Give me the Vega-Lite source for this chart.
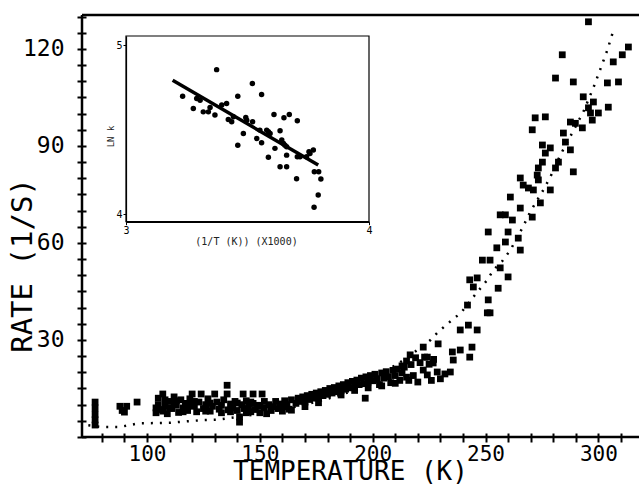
{
  "$schema": "https://vega.github.io/schema/vega-lite/v6.json",
  "width": 557,
  "height": 422,
  "autosize": "none",
  "padding": {"left": 82, "top": 15, "right": 0, "bottom": 49},
  "background": "white",
  "config": {"view": {"stroke": null}, "font": "DejaVu Sans Mono"},
  "datasets": {
    "main": [
      {"T":77,"R":3.7},{"T":77,"R":5.3},{"T":77,"R":7},{"T":77,"R":9},{"T":77,"R":10.8},
      {"T":88,"R":9.5},{"T":89,"R":8.2},{"T":90,"R":7.7},{"T":91,"R":9.5},{"T":95.6,"R":10.8},
      {"T":104,"R":7.5},{"T":105,"R":10},{"T":105,"R":12},{"T":106,"R":8.5},{"T":107,"R":13.3},{"T":108,"R":9.5},{"T":108,"R":11.5},{"T":109,"R":7.2},{"T":110,"R":11},{"T":110,"R":9},
      {"T":111,"R":8.8},{"T":112,"R":12.4},{"T":112,"R":10.5},{"T":113,"R":9.8},{"T":114,"R":7.6},{"T":115,"R":11.5},{"T":116,"R":9},{"T":117,"R":10.4},{"T":118,"R":8.2},{"T":119,"R":11.8},
      {"T":120,"R":13.3},{"T":121,"R":9.5},{"T":122,"R":7.8},{"T":123,"R":10.8},{"T":124,"R":13.3},{"T":125,"R":8.8},{"T":126,"R":10},{"T":127,"R":11.8},{"T":128,"R":8},{"T":129,"R":9.5},
      {"T":130,"R":13.3},{"T":131,"R":10.8},{"T":132,"R":8.6},{"T":133,"R":9.8},{"T":134,"R":11.5},{"T":135.5,"R":13.3},{"T":135.5,"R":16},{"T":136,"R":8.4},{"T":137,"R":10.2},{"T":138,"R":9},
      {"T":139,"R":11},{"T":140,"R":8.2},{"T":141,"R":4.6},{"T":141,"R":6.2},{"T":142,"R":10},{"T":142.6,"R":13.3},{"T":143,"R":8.8},{"T":144,"R":11.2},{"T":145,"R":9.2},{"T":146,"R":7.8},
      {"T":147,"R":13.3},{"T":147,"R":10.4},{"T":148,"R":8.5},{"T":149,"R":9.8},{"T":150,"R":7.5},{"T":151,"R":13.3},
      {"T":104,"R":9},{"T":107,"R":8},{"T":113,"R":11.2},{"T":116,"R":7.8},{"T":118,"R":9.8},{"T":121,"R":11},{"T":126,"R":8},{"T":128,"R":10.5},{"T":133,"R":7.5},{"T":137,"R":7.8},
      {"T":140,"R":10.5},{"T":144,"R":7.5},{"T":146,"R":10.8},{"T":150,"R":9.5},{"T":152,"R":11},
      {"T":152,"R":9},{"T":153,"R":7.2},{"T":154,"R":10},{"T":155,"R":8.2},{"T":156,"R":9.4},{"T":157,"R":11},{"T":158,"R":8.8},{"T":159,"R":10.2},{"T":160,"R":9.5},{"T":161,"R":11.2},
      {"T":162,"R":10},{"T":163,"R":8.6},{"T":164,"R":8.3},{"T":164,"R":11.5},{"T":166,"R":10.4},{"T":167,"R":12},{"T":168,"R":11},{"T":169,"R":12.4},{"T":170,"R":10.8},{"T":171,"R":12.8},
      {"T":172,"R":11.6},{"T":173,"R":13.2},{"T":174,"R":12},{"T":175,"R":13.6},{"T":176,"R":12.4},{"T":177,"R":14},{"T":178,"R":12.8},{"T":179,"R":14.4},{"T":180,"R":13.2},{"T":181,"R":15},
      {"T":182,"R":13.6},{"T":183,"R":15.3},{"T":184,"R":14},{"T":185,"R":15.8},{"T":186,"R":14.4},{"T":187,"R":16.2},{"T":188,"R":14.8},{"T":189,"R":16.8},{"T":190,"R":15.2},{"T":191,"R":17.2},
      {"T":192,"R":15.8},{"T":193,"R":17.6},{"T":194,"R":16.2},{"T":195,"R":18.2},{"T":196,"R":16.5},{"T":196.7,"R":12},{"T":197,"R":18.6},{"T":198,"R":17},{"T":199,"R":19},{"T":200,"R":17.4},
      {"T":201,"R":19.4},{"T":202,"R":17.8},{"T":203,"R":16.2},{"T":204,"R":19.8},{"T":205,"R":18.2},{"T":206,"R":20.2},{"T":207,"R":18.6},{"T":208,"R":16.8},{"T":209,"R":20.6},{"T":210,"R":19},
      {"T":211,"R":21},{"T":212,"R":17.5},{"T":213,"R":19.8},{"T":214,"R":21.6},{"T":215,"R":18.5},
      {"T":186,"R":13},{"T":192,"R":14.4},{"T":198,"R":15.2},{"T":204,"R":15.8},{"T":210,"R":16.6},{"T":170,"R":9.4},{"T":176,"R":10.6},{"T":160,"R":8},
      {"T":213,"R":22},{"T":215,"R":23.5},{"T":216.6,"R":25.4},{"T":217,"R":22.4},{"T":219,"R":24.5},{"T":221,"R":23},{"T":222.4,"R":27.8},{"T":223,"R":24.7},{"T":225,"R":22.5},{"T":227,"R":24},
      {"T":229,"R":28.8},{"T":216,"R":17.5},{"T":218,"R":19},{"T":220,"R":17},{"T":222.4,"R":20.7},{"T":224.2,"R":19.2},{"T":226,"R":17.5},{"T":228.6,"R":20.1},{"T":230,"R":18},{"T":232,"R":19.5},
      {"T":234.4,"R":20.1},{"T":226.8,"R":22.9},{"T":224.2,"R":24.7},{"T":235.3,"R":26.3},{"T":238.8,"R":26.9},{"T":244,"R":27.8},{"T":243,"R":24.7},{"T":235.7,"R":23.8},
      {"T":265.4,"R":70.8},{"T":258.8,"R":68.7},{"T":261.9,"R":67.1},{"T":256.5,"R":68.7},{"T":251.2,"R":63.4},{"T":260,"R":63.4},{"T":264.5,"R":61.5},{"T":258.8,"R":60.3},{"T":255,"R":58.5},{"T":265.4,"R":57.8},
      {"T":248.6,"R":54.7},{"T":252,"R":54.7},{"T":256.5,"R":52.3},{"T":260,"R":49.5},{"T":246.3,"R":49.2},{"T":243,"R":48.6},{"T":244.6,"R":46.4},{"T":255.6,"R":46},{"T":251.2,"R":42.4},{"T":242,"R":40.8},
      {"T":250.8,"R":38.4},{"T":252,"R":38.4},{"T":242.4,"R":34.6},{"T":238.8,"R":33.1},{"T":246.3,"R":33.1},
      {"T":272,"R":98.7},{"T":276.5,"R":99},{"T":270.7,"R":95},{"T":287.6,"R":97.4},{"T":289.8,"R":97},{"T":284.5,"R":94},{"T":285.4,"R":91.2},{"T":287.6,"R":88.8},{"T":275.2,"R":90.3},{"T":278.7,"R":89.4},
      {"T":276.5,"R":87.8},{"T":275.2,"R":85},{"T":282.3,"R":85},{"T":273.4,"R":83.2},{"T":281,"R":83.2},{"T":288.9,"R":82},{"T":272.9,"R":81},{"T":265.4,"R":80.1},{"T":266.7,"R":77.9},{"T":273.4,"R":79.5},
      {"T":269,"R":77},{"T":271.2,"R":76.4},{"T":278.7,"R":76.4},{"T":261,"R":74.2},{"T":274.3,"R":72.4},{"T":270.7,"R":68},
      {"T":295.6,"R":128.4},{"T":313.3,"R":120.6},{"T":310.6,"R":118.2},{"T":306.6,"R":116},{"T":284,"R":118.2},{"T":281,"R":111},{"T":288.9,"R":109.8},{"T":304,"R":109.5},{"T":308.9,"R":109.8},{"T":293.3,"R":105.2},
      {"T":297.8,"R":103.6},{"T":304.4,"R":102},{"T":295.6,"R":101.8},{"T":300,"R":100.2},{"T":296.5,"R":100.2},{"T":292.9,"R":95.6},{"T":297.3,"R":98}
    ],
    "fit": [
      {"T":74,"R":3.6},{"T":80,"R":3.1},{"T":88,"R":3.1},{"T":96,"R":4.2},{"T":110,"R":4.4},{"T":124,"R":5.2},{"T":132,"R":5.4},{"T":140,"R":6.2},{"T":150,"R":7.2},{"T":160,"R":8.5},
      {"T":170,"R":10},{"T":180,"R":11.8},{"T":190,"R":14},{"T":200,"R":17.2},{"T":207,"R":21},{"T":211,"R":22.5},{"T":220,"R":27},{"T":225.6,"R":30},{"T":229,"R":32.5},{"T":235.7,"R":36.5},
      {"T":239,"R":38.3},{"T":244.6,"R":43.3},{"T":250.8,"R":48.6},{"T":253.4,"R":51.6},{"T":257.4,"R":54.4},{"T":261,"R":57.8},{"T":266.3,"R":64.6},{"T":269.8,"R":69.6},{"T":275.6,"R":76.4},{"T":278.7,"R":80.4},
      {"T":283,"R":87},{"T":288,"R":93.5},{"T":293.3,"R":100.5},{"T":297.8,"R":108},{"T":301,"R":114},{"T":304,"R":119.7},{"T":306.6,"R":125.6}
    ],
    "inset": [
      {"X":3.373,"Y":4.856},{"X":3.233,"Y":4.699},{"X":3.277,"Y":4.626},{"X":3.318,"Y":4.606},{"X":3.339,"Y":4.606},{"X":3.291,"Y":4.685},{"X":3.366,"Y":4.587},{"X":3.394,"Y":4.646},{"X":3.414,"Y":4.656},{"X":3.46,"Y":4.699},
      {"X":3.52,"Y":4.774},{"X":3.558,"Y":4.709},{"X":3.421,"Y":4.561},{"X":3.435,"Y":4.547},{"X":3.46,"Y":4.409},{"X":3.483,"Y":4.478},{"X":3.493,"Y":4.573},{"X":3.521,"Y":4.547},{"X":3.538,"Y":4.449},{"X":3.558,"Y":4.423},
      {"X":3.586,"Y":4.337},{"X":3.586,"Y":4.488},{"X":3.609,"Y":4.591},{"X":3.634,"Y":4.494},{"X":3.634,"Y":4.281},{"X":3.65,"Y":4.571},{"X":3.672,"Y":4.591},{"X":3.661,"Y":4.281},{"X":3.661,"Y":4.35},{"X":3.705,"Y":4.553},
      {"X":3.702,"Y":4.21},{"X":3.705,"Y":4.34},{"X":3.771,"Y":4.38},{"X":3.775,"Y":4.252},{"X":3.793,"Y":4.252},{"X":3.802,"Y":4.209},{"X":3.791,"Y":4.114},{"X":3.774,"Y":4.041},{"X":3.641,"Y":4.439},{"X":3.654,"Y":4.409},
      {"X":3.613,"Y":4.39},{"X":3.551,"Y":4.498},{"X":3.305,"Y":4.675},{"X":3.346,"Y":4.632},{"X":3.442,"Y":4.577},{"X":3.497,"Y":4.557},{"X":3.579,"Y":4.498},{"X":3.593,"Y":4.478},{"X":3.648,"Y":4.419},{"X":3.661,"Y":4.399},
      {"X":3.716,"Y":4.34},{"X":3.743,"Y":4.34},{"X":3.753,"Y":4.37},{"X":3.757,"Y":4.36}
    ],
    "insetfit": [{"X":3.192,"Y":4.793},{"X":3.791,"Y":4.291}],
    "one": [{}]
  },
  "layer": [
    {
      "data": {"name": "fit"},
      "mark": {"type": "line", "stroke": "black", "strokeWidth": 2.5, "strokeDash": [2, 7], "strokeCap": "butt"},
      "encoding": {
        "x": {"field": "T", "type": "quantitative",
          "scale": {"domain": [71.2, 318], "nice": false, "zero": false},
          "axis": {
            "orient": "bottom",
            "values": [80,90,100,110,120,130,140,150,160,170,180,190,200,210,220,230,240,250,260,270,280,290,300,310],
            "labelExpr": "datum.value % 50 === 0 ? datum.label : ''",
            "domain": false, "grid": false, "offset": -4,
            "tickSize": 9, "tickWidth": 2, "tickColor": "black",
            "labelFont": "DejaVu Sans Mono", "labelFontSize": 21, "labelColor": "black", "labelPadding": 1, "labelOverlap": false,
            "title": "TEMPERATURE (K)", "titleFont": "DejaVu Sans Mono", "titleFontSize": 26, "titleFontWeight": "normal", "titleColor": "black",
            "titleX": 268, "titleY": 46, "titleBaseline": "alphabetic", "titleAlign": "center"
          }
        },
        "y": {"field": "R", "type": "quantitative",
          "scale": {"domain": [0, 130.5], "nice": false, "zero": false},
          "axis": {
            "orient": "left",
            "values": [0,5,10,15,20,25,30,35,40,45,50,55,60,65,70,75,80,85,90,95,100,105,110,115,120,125,130],
            "labelExpr": "datum.value % 30 === 0 && datum.value > 0 ? datum.label : ''",
            "domain": false, "grid": false, "offset": -4,
            "tickSize": 9, "tickWidth": 2, "tickColor": "black",
            "labelFont": "DejaVu Sans Mono", "labelFontSize": 23, "labelColor": "black", "labelPadding": 13, "labelOverlap": false,
            "title": "RATE (1/S)", "titleFont": "DejaVu Sans Mono", "titleFontSize": 29, "titleFontWeight": "normal", "titleColor": "black",
            "titleAngle": 270, "titleX": -64, "titleY": 250, "titleBaseline": "middle", "titleAlign": "center"
          }
        }
      }
    },
    {
      "data": {"name": "main"},
      "mark": {"type": "point", "shape": "square", "filled": true, "color": "black", "size": 46, "opacity": 1},
      "encoding": {
        "x": {"field": "T", "type": "quantitative", "scale": {"domain": [71.2, 318], "nice": false, "zero": false}, "axis": null},
        "y": {"field": "R", "type": "quantitative", "scale": {"domain": [0, 130.5], "nice": false, "zero": false}, "axis": null}
      }
    },
    {
      "data": {"name": "one"},
      "mark": {"type": "rule", "color": "black", "strokeWidth": 2.5},
      "encoding": {"y": {"datum": 0, "type": "quantitative", "scale": {"domain": [0, 130.5], "nice": false, "zero": false}, "axis": null}}
    },
    {
      "data": {"name": "one"},
      "mark": {"type": "rule", "color": "black", "strokeWidth": 2.5},
      "encoding": {"y": {"datum": 130.5, "type": "quantitative", "scale": {"domain": [0, 130.5], "nice": false, "zero": false}, "axis": null}}
    },
    {
      "data": {"name": "one"},
      "mark": {"type": "rule", "color": "black", "strokeWidth": 2.5},
      "encoding": {"x": {"datum": 71.2, "type": "quantitative", "scale": {"domain": [71.2, 318], "nice": false, "zero": false}, "axis": null}}
    },
    {
      "data": {"name": "one"},
      "mark": {"type": "rect", "fill": null, "stroke": "black", "strokeWidth": 1.2},
      "encoding": {
        "x": {"datum": 3, "type": "quantitative", "scale": {"domain": [3, 4], "range": [44, 287], "nice": false, "zero": false}, "axis": null},
        "x2": {"datum": 4},
        "y": {"datum": 3.956, "type": "quantitative", "scale": {"domain": [3.956, 5.055], "range": [206.7, 21], "nice": false, "zero": false}, "axis": null},
        "y2": {"datum": 5.055}
      }
    },
    {
      "data": {"name": "insetfit"},
      "mark": {"type": "line", "stroke": "black", "strokeWidth": 3.5},
      "encoding": {
        "x": {"field": "X", "type": "quantitative", "scale": {"domain": [3, 4], "range": [44, 287], "nice": false, "zero": false}, "axis": null},
        "y": {"field": "Y", "type": "quantitative", "scale": {"domain": [3.956, 5.055], "range": [206.7, 21], "nice": false, "zero": false}, "axis": null}
      }
    },
    {
      "data": {"name": "inset"},
      "mark": {"type": "circle", "color": "black", "size": 30, "opacity": 1},
      "encoding": {
        "x": {"field": "X", "type": "quantitative",
          "scale": {"domain": [3, 4], "range": [44, 287], "nice": false, "zero": false},
          "axis": {
            "orient": "bottom", "offset": -215.3,
            "values": [3,3.04,3.08,3.12,3.16,3.2,3.24,3.28,3.32,3.36,3.4,3.44,3.48,3.52,3.56,3.6,3.64,3.68,3.72,3.76,3.8,3.84,3.88,3.92,3.96,4],
            "format": "d",
            "labelExpr": "datum.value === 3 || datum.value === 4 ? datum.label : ''",
            "domain": true, "domainColor": "black", "domainWidth": 1.5, "grid": false,
            "tickColor": "black", "tickSize": 3, "tickWidth": 1,
            "labelFont": "DejaVu Sans Mono", "labelFontSize": 10, "labelColor": "black", "labelPadding": 1, "labelOverlap": false, "labelFlush": false,
            "title": "(1/T (K)) (X1000)", "titleFont": "DejaVu Sans Mono", "titleFontSize": 10, "titleFontWeight": "normal", "titleColor": "#222",
            "titleX": 164, "titleY": 20, "titleBaseline": "middle", "titleAlign": "center"
          }
        },
        "y": {"field": "Y", "type": "quantitative",
          "scale": {"domain": [3.956, 5.055], "range": [206.7, 21], "nice": false, "zero": false},
          "axis": {
            "orient": "left", "offset": -44,
            "values": [4,4.1,4.2,4.3,4.4,4.5,4.6,4.7,4.8,4.9,5],
            "format": "d",
            "labelExpr": "datum.value === 4 || datum.value === 5 ? datum.label : ''",
            "domain": true, "domainColor": "black", "domainWidth": 1.2, "grid": false,
            "tickColor": "black", "tickSize": 3, "tickWidth": 1,
            "labelFont": "DejaVu Sans Mono", "labelFontSize": 10, "labelColor": "black", "labelPadding": 1, "labelOverlap": false, "labelFlush": false,
            "title": "LN k", "titleFont": "DejaVu Sans Mono", "titleFontSize": 9, "titleFontWeight": "normal", "titleColor": "#222",
            "titleAngle": 270, "titleX": -16, "titleY": 121, "titleBaseline": "middle", "titleAlign": "center"
          }
        }
      }
    }
  ],
  "resolve": {"scale": {"x": "independent", "y": "independent"}, "axis": {"x": "independent", "y": "independent"}}
}
